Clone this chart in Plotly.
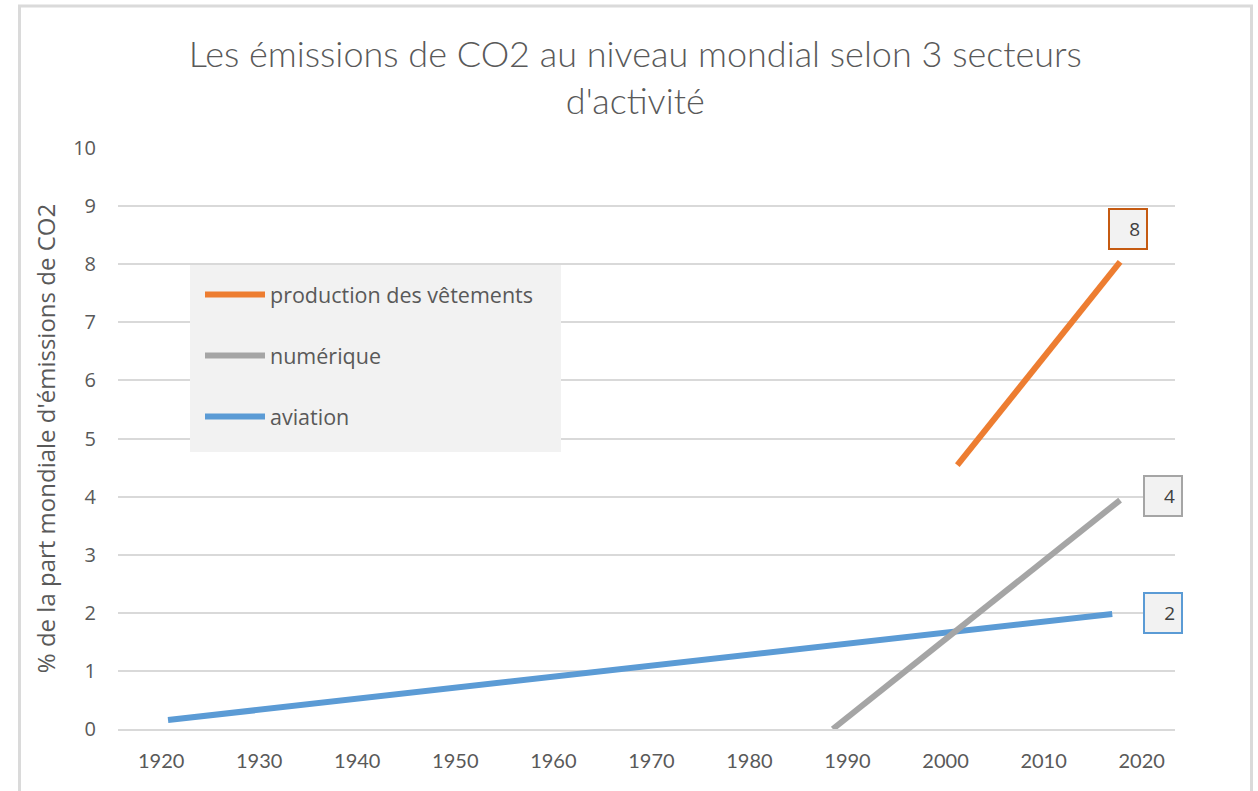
import plotly.graph_objects as go

# ---- data ----
series_names = ["production des vêtements", "numérique", "aviation"]
vetements_years = [2001.2, 2017.8]
vetements_values = [4.54, 8.04]
numerique_years = [1988.5, 2017.8]
numerique_values = [0.0, 3.94]
aviation_years = [1920.7, 2017.0]
aviation_values = [0.155, 1.98]
x_ticks = [1920, 1930, 1940, 1950, 1960, 1970, 1980, 1990, 2000, 2010, 2020]
y_ticks = [0, 1, 2, 3, 4, 5, 6, 7, 8, 9, 10]

colors = ["#ED7D31", "#A5A5A5", "#5B9BD5"]
label_borders = ["#C55A11", "#A5A5A5", "#5B9BD5"]
label_shifts = [(8, 33), (43, 4), (51, 1)]

W, H = 1258, 791
L, R, T, B = 118, 83, 148, 62
pw, ph = W - L - R, H - T - B


def px_x(px):
    return (px - L) / pw


def px_y(py):
    return (H - B - py) / ph


TXT = "#595959"
FONT = "Open Sans"

fig = go.Figure()
all_series = [
    (vetements_years, vetements_values),
    (numerique_years, numerique_values),
    (aviation_years, aviation_values),
]
for i in [2, 1, 0]:
    xs, ys = all_series[i]
    fig.add_trace(go.Scatter(
        x=xs, y=ys, mode="lines", name=series_names[i],
        legendgroup=series_names[i], legendrank=i + 1,
        line=dict(color=colors[i], width=6),
        hoverinfo="skip",
    ))

for i, (xs, ys) in enumerate(all_series):
    dx, dy = label_shifts[i]
    fig.add_annotation(
        x=xs[-1], y=ys[-1], xref="x", yref="y",
        text=f"{round(ys[-1])}", showarrow=False,
        xshift=dx, yshift=dy,
        font=dict(family=FONT, size=19, color="#404040"),
        bgcolor="#F2F2F2", bordercolor=label_borders[i], borderwidth=2,
        borderpad=6, width=24, align="right",
    )

shapes = [
    dict(type="rect", xref="paper", yref="paper",
         x0=px_x(190), x1=px_x(561), y0=px_y(452), y1=px_y(265),
         fillcolor="#F2F2F2", line=dict(width=0), layer="above"),
    dict(type="rect", xref="paper", yref="paper",
         x0=px_x(19.5), x1=px_x(1251.5), y0=px_y(805), y1=px_y(6),
         line=dict(color="#DADADA", width=3), fillcolor="rgba(0,0,0,0)", layer="below"),
]

fig.update_layout(
    width=W, height=H,
    margin=dict(l=L, r=R, t=T, b=B),
    paper_bgcolor="white", plot_bgcolor="white",
    title=dict(
        text="Les émissions de CO2 au niveau mondial selon 3 secteurs<br>d'activité",
        x=0.505, xanchor="center", y=1 - 67 / H, yanchor="middle",
        font=dict(family="Lato", size=36, color=TXT, weight=300),
    ),
    showlegend=True,
    legend=dict(
        x=px_x(200), y=px_y(274), xanchor="left", yanchor="top",
        bgcolor="rgba(0,0,0,0)", font=dict(family=FONT, size=21.5, color=TXT),
        traceorder="grouped", tracegroupgap=30, itemwidth=60,
    ),
    shapes=shapes,
    xaxis=dict(
        range=[1915.6, 2023.4], tickvals=x_ticks, ticktext=[str(v) for v in x_ticks],
        showgrid=False, zeroline=False, showline=True, linecolor="#D9D9D9", linewidth=2,
        ticks="", ticklabelstandoff=13,
        tickfont=dict(family="Lato", size=20, color=TXT),
    ),
    yaxis=dict(
        range=[0, 10], tickvals=y_ticks, showgrid=True, gridcolor="#D9D9D9", gridwidth=1.5,
        zeroline=False, showline=False, ticks="", ticklabelstandoff=21,
        tickfont=dict(family=FONT, size=20, color=TXT),
        title=dict(text="% de la part mondiale d'émissions de CO2",
                   font=dict(family=FONT, size=24, color=TXT), standoff=10),
    ),
)

fig.write_html("out.html", config={"displayModeBar": False},
               post_script="document.body.style.margin='0';")
